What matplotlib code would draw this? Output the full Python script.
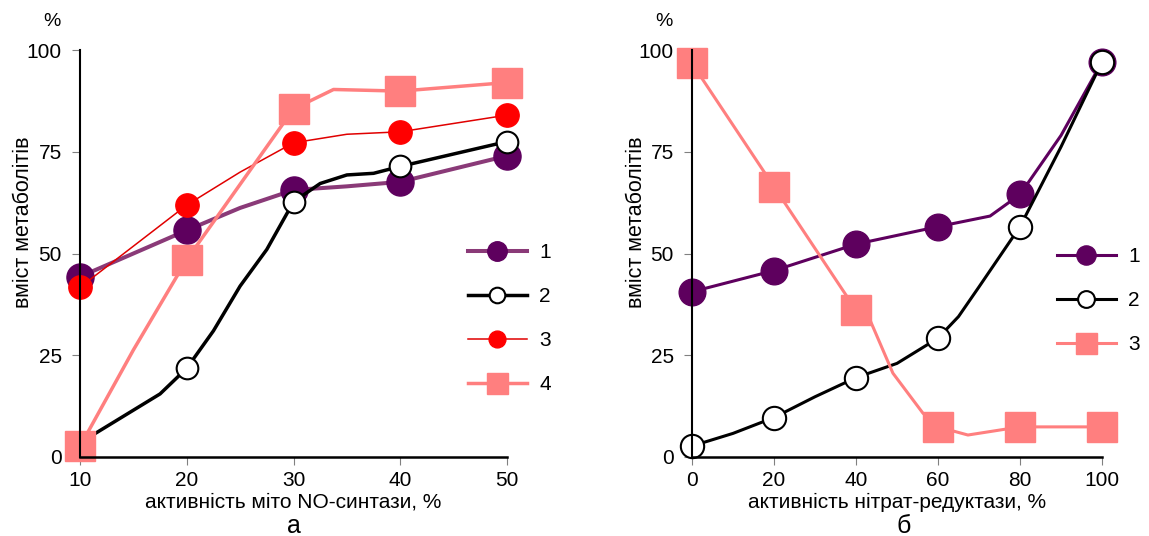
import numpy as np
import matplotlib
matplotlib.use("Agg")
import matplotlib.pyplot as plt

plt.rcParams['font.family'] = ['Liberation Sans', 'DejaVu Sans']

# panel a: activity of mito NO-synthase
a_x1 = [10, 20, 25, 30, 35, 40, 50]
a_y1 = [44.3, 55.7, 61.2, 65.6, 66.5, 67.6, 74.0]
a_x2 = [10, 12.5, 15, 17.5, 20, 22.5, 25, 27.5, 30, 32.5, 35, 37.5, 40, 50]
a_y2 = [3.5, 7.5, 11.5, 15.5, 21.8, 31, 42, 51, 62.7, 67.2, 69.3, 69.7, 71.4, 77.5]
a_x3 = [10, 20, 25, 30, 35, 40, 50]
a_y3 = [41.7, 61.9, 70.0, 77.2, 79.3, 79.9, 84.0]
a_x4 = [10, 15, 20, 30, 33.75, 40, 50]
a_y4 = [2.6, 26.3, 48.5, 85.5, 90.3, 89.9, 92.0]
a_ticks = [10, 20, 30, 40, 50]

# panel b: activity of nitrate reductase
b_x1 = [0, 20, 40, 60, 72.7, 80, 90, 100]
b_y1 = [40.6, 45.8, 52.3, 56.6, 59.2, 64.5, 79, 97.1]
b_x2 = [0, 10, 20, 30, 40, 50, 60, 65, 70, 75, 80, 90, 100]
b_y2 = [2.7, 5.8, 9.7, 14.8, 19.5, 23.0, 29.2, 34.5, 41.8, 49.2, 56.6, 76.2, 97.1]
b_x3 = [0, 20, 40, 43.4, 49, 56.3, 60, 67.3, 80, 100]
b_y3 = [96.7, 66.4, 36.1, 33.7, 20.6, 10.8, 7.4, 5.4, 7.4, 7.4]
b_ticks = [0, 20, 40, 60, 80, 100]

y_ticks = [0, 25, 50, 75, 100]

PURPLE = '#5e005e'
MAUVE = '#8a3a78'
RED = '#ff0000'
PINK = '#ff7f7f'


def marks(x, step):
    return [i for i, v in enumerate(x) if v % step == 0]


def style_axes(ax, xlim, xticks):
    ax.set_xlim(*xlim)
    ax.set_ylim(0, 100)
    ax.set_xticks(xticks)
    ax.set_yticks(y_ticks)
    for s in ['top', 'right']:
        ax.spines[s].set_visible(False)
    ax.spines['left'].set_linewidth(1.5)
    ax.spines['bottom'].set_linewidth(1.8)
    ax.tick_params(axis='both', length=6, width=0.8, color='#808080',
                   labelsize=15)
    ax.tick_params(axis='y', pad=7)
    ax.tick_params(axis='x', pad=4)


fig = plt.figure(figsize=(11.49, 5.36), dpi=100)
W, H = 1149, 536
ax1 = fig.add_axes([80 / W, 1 - 457 / H, 427 / W, 407 / H])
ax2 = fig.add_axes([692 / W, 1 - 457 / H, 410 / W, 407 / H])

# ---- panel a
ax1.plot(a_x1, a_y1, color=MAUVE, lw=2.9, marker='o', ms=19.5, mfc=PURPLE,
         mec=PURPLE, markevery=marks(a_x1, 10), clip_on=False, label='1')
ax1.plot(a_x2, a_y2, color='black', lw=2.5, marker='o', ms=15.6, mfc='white',
         mec='black', mew=1.5, markevery=marks(a_x2, 10), clip_on=False, label='2')
ax1.plot(a_x3, a_y3, color='#e00000', lw=1.1, marker='o', ms=16.8, mfc=RED,
         mec=RED, markevery=marks(a_x3, 10), clip_on=False, label='3')
ax1.plot(a_x4, a_y4, color=PINK, lw=2.5, marker='s', ms=21, mfc=PINK,
         mec=PINK, markevery=marks(a_x4, 10), clip_on=False, label='4')
style_axes(ax1, (10, 50), a_ticks)

# ---- panel b
ax2.plot(b_x1, b_y1, color=PURPLE, lw=2.2, marker='o', ms=19.2, mfc=PURPLE,
         mec=PURPLE, markevery=marks(b_x1, 20), clip_on=False, label='1')
ax2.plot(b_x2, b_y2, color='black', lw=2.2, marker='o', ms=16.8, mfc='white',
         mec='black', mew=1.5, markevery=marks(b_x2, 20), clip_on=False, label='2')
ax2.plot(b_x3, b_y3, color=PINK, lw=2.2, marker='s', ms=21, mfc=PINK,
         mec=PINK, markevery=marks(b_x3, 20), clip_on=False, label='3')
style_axes(ax2, (0, 100), b_ticks)

for ax, lx, ly in [(ax1, 468, 243), (ax2, 1057, 247)]:
    ax.legend(loc='upper left', bbox_to_anchor=(lx / W, 1 - ly / H),
              bbox_transform=fig.transFigure, frameon=False, fontsize=15,
              handlelength=2.83, handletextpad=0.6, labelspacing=1.2,
              borderpad=0, borderaxespad=0, markerscale=0.72)

# axis texts
for ax, w, name, tag, tagx in [
        (ax1, 427, 'активність міто NO-синтази, %', 'а', 0.5),
        (ax2, 410, 'активність нітрат-редуктази, %', 'б', 0.517)]:
    ax.text(-28 / w, 1.069, '%', transform=ax.transAxes, ha='center',
            va='center', fontsize=14)
    ax.text(-56 / w, 0.577, 'вміст метаболітів', transform=ax.transAxes,
            ha='center', va='center', rotation=90, fontsize=15.5)
    ax.text(0.5, -0.111, name, transform=ax.transAxes, ha='center',
            va='center', fontsize=15)
    ax.text(tagx, -0.17, tag, transform=ax.transAxes, ha='center',
            va='center', fontsize=18)

fig.savefig('out.png', dpi=100)
